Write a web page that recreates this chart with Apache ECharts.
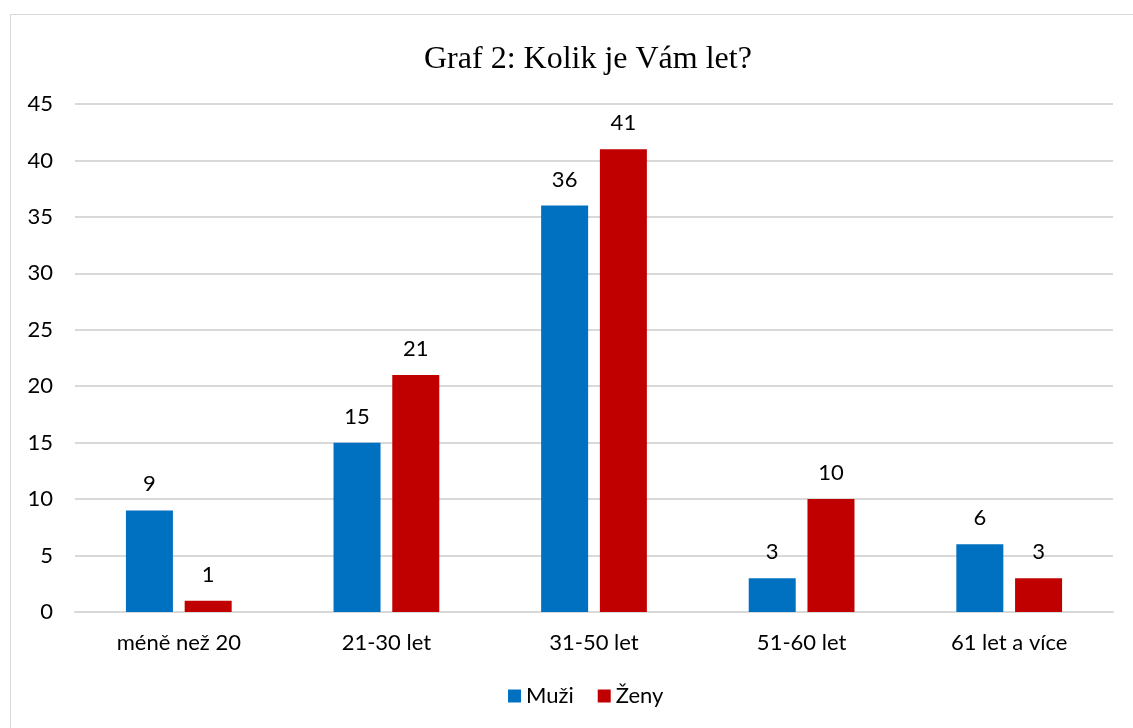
<!DOCTYPE html>
<html>
<head>
<meta charset="utf-8">
<script src="https://cdn.jsdelivr.net/npm/echarts@6/dist/echarts.min.js"></script>
<style>
  html, body { margin: 0; padding: 0; background: #fff; }
  #frame { position: absolute; left: 10px; top: 14px; width: 1130px; height: 720px; border: 1px solid #d9d9d9; box-sizing: border-box; }
  #chart { position: absolute; left: 0; top: 0; width: 1133px; height: 728px; }
</style>
</head>
<body>
<div id="frame"></div>
<div id="chart"></div>
<script>
const categories = ['méně než 20', '21-30 let', '31-50 let', '51-60 let', '61 let a více'];
const muzi = [9, 15, 36, 3, 6];
const zeny = [1, 21, 41, 10, 3];
const yTicks = { min: 0, max: 45, interval: 5 };

const font = 'Lato, "Open Sans", sans-serif';
const labelStyle = { show: true, position: 'top', distance: 15, color: '#000', fontSize: 22, fontFamily: font };

let myChart = echarts.init(document.getElementById('chart'));
myChart.setOption({
    backgroundColor: 'transparent',
    animation: false,
    title: {
        text: 'Graf 2: Kolik je Vám let?',
        left: 419,
        top: 39,
        textStyle: { fontFamily: '"Liberation Serif", "Times New Roman", serif', fontWeight: 'normal', fontSize: 32, color: '#000' }
    },
    legend: {
        data: ['Muži', 'Ženy'],
        bottom: 16,
        left: 503,
        icon: 'rect',
        itemWidth: 13,
        itemHeight: 13,
        itemGap: 24,
        itemTextGap: 6,
        textStyle: { fontFamily: font, fontSize: 22, color: '#000' }
    },
    grid: { left: 75, right: 20, top: 104, bottom: 116 },
    xAxis: {
        type: 'category',
        data: categories,
        axisLine: { lineStyle: { color: '#d9d9d9', width: 2 } },
        axisTick: { show: false },
        axisLabel: { color: '#000', fontSize: 22, fontFamily: font, margin: 20 }
    },
    yAxis: {
        type: 'value',
        min: yTicks.min,
        max: yTicks.max,
        interval: yTicks.interval,
        axisLine: { show: false },
        axisTick: { show: false },
        axisLabel: { color: '#000', fontSize: 22, fontFamily: font, margin: 22 },
        splitLine: { lineStyle: { color: '#d9d9d9', width: 2 } }
    },
    series: [{
        name: 'Muži',
        type: 'bar',
        data: muzi,
        barWidth: 47,
        barGap: '25%',
        itemStyle: { color: '#0070c0' },
        label: labelStyle
    }, {
        name: 'Ženy',
        type: 'bar',
        data: zeny,
        barWidth: 47,
        itemStyle: { color: '#c00000' },
        label: labelStyle
    }]
});
</script>
</body>
</html>
